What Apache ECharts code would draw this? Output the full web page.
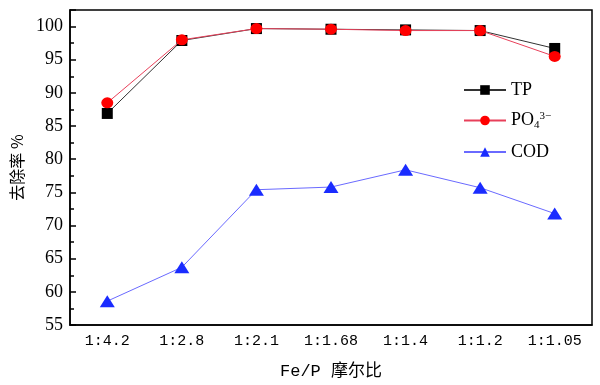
<!DOCTYPE html>
<html><head><meta charset="utf-8">
<script src="https://cdn.jsdelivr.net/npm/echarts@6/dist/echarts.min.js"></script>
<style>html,body{margin:0;padding:0;background:#fff}#c{width:600px;height:385px}</style>
</head><body><div id="c"></div>
<script>
var categories = ['1:4.2','1:2.8','1:2.1','1:1.68','1:1.4','1:1.2','1:1.05'];
var tpValues   = [86.9, 97.9, 99.7, 99.6, 99.5, 99.4, 96.7];
var po4Values  = [88.5, 98.0, 99.7, 99.6, 99.4, 99.4, 95.5];
var codValues  = [58.6, 63.7, 75.4, 75.8, 78.4, 75.7, 71.8];
var seriesNames = ['TP', 'PO4', 'COD'];
var yAxisName = '去除率 %';
var xAxisName = 'Fe/P 摩尔比';

var serif = "'Liberation Serif','Times New Roman','Noto Sans CJK SC',serif";
var mono = "'Liberation Mono','Noto Sans CJK SC',monospace";
var chart = echarts.init(document.getElementById('c'), null, {renderer:'canvas'});
chart.setOption({
  animation: false,
  backgroundColor: '#fff',
  grid: {left: 70, right: 8, top: 10, bottom: 57, show: true, borderColor: '#000', borderWidth: 1.5, backgroundColor: 'transparent'},
  legend: {
    orient: 'vertical', left: 458, top: 76,
    itemWidth: 42, itemHeight: 12, itemGap: 12,
    data: seriesNames,
    textStyle: {fontFamily: serif, fontSize: 18, color: '#000',
      rich: {b: {fontFamily: serif, fontSize: 18, color:'#000'},
             sub: {fontFamily: serif, fontSize: 11, color:'#000', padding:[10,0,0,0]},
             sup: {fontFamily: serif, fontSize: 11, color:'#000', padding:[0,0,8,0]}}},
    formatter: function(n){ return n === 'PO4' ? '{b|PO}{sub|4}{sup|3−}' : n; }
  },
  xAxis: [{
    type: 'category', data: categories, boundaryGap: true,
    axisLine: {lineStyle: {color: '#000', width: 1.5}},
    axisTick: {inside: true, alignWithLabel: true, length: 6, lineStyle: {color:'#000', width: 1.5}},
    axisLabel: {fontFamily: mono, fontSize: 15, color: '#000', margin: 9},
    name: xAxisName, nameLocation: 'middle', nameGap: 38,
    nameTextStyle: {fontFamily: mono, fontSize: 17, color: '#000'},
    splitLine: {show: false}
  }, {
    type: 'category', data: categories, boundaryGap: true, position: 'bottom',
    axisLine: {show: false},
    axisTick: {inside: true, alignWithLabel: false, length: 3, lineStyle: {color:'#000', width: 1.5}},
    axisLabel: {show: false}, splitLine: {show: false}
  }],
  yAxis: {
    type: 'value', min: 55, max: 102.5, interval: 5,
    axisLine: {show: true, lineStyle: {color: '#000', width: 1.5}},
    axisTick: {show: true, inside: true, length: 6, lineStyle: {color:'#000', width: 1.5}},
    minorTick: {show: true, splitNumber: 2, length: 4, lineStyle: {color:'#000', width: 1.5}},
    axisLabel: {fontFamily: serif, fontSize: 18, color: '#000', margin: 7, showMaxLabel: false},
    splitLine: {show: false},
    name: yAxisName, nameLocation: 'middle', nameGap: 44, nameRotate: 90,
    nameTextStyle: {fontFamily: "'Noto Sans CJK SC',serif", fontSize: 16, color: '#000'}
  },
  series: [
    {name: 'TP', type: 'line', data: tpValues, symbol: 'rect', symbolSize: 11,
     itemStyle: {color: '#000'}, lineStyle: {color: '#333', width: 1}, z: 2},
    {name: 'PO4', type: 'line', data: po4Values, symbol: 'circle', symbolSize: [12,11],
     itemStyle: {color: '#ff0000'}, lineStyle: {color: '#e8405a', width: 1}, z: 3},
    {name: 'COD', type: 'line', data: codValues, symbol: 'triangle', symbolSize: [15,12],
     itemStyle: {color: '#1a2cff'}, lineStyle: {color: '#6a6aff', width: 1}, z: 4}
  ]
});
</script></body></html>
